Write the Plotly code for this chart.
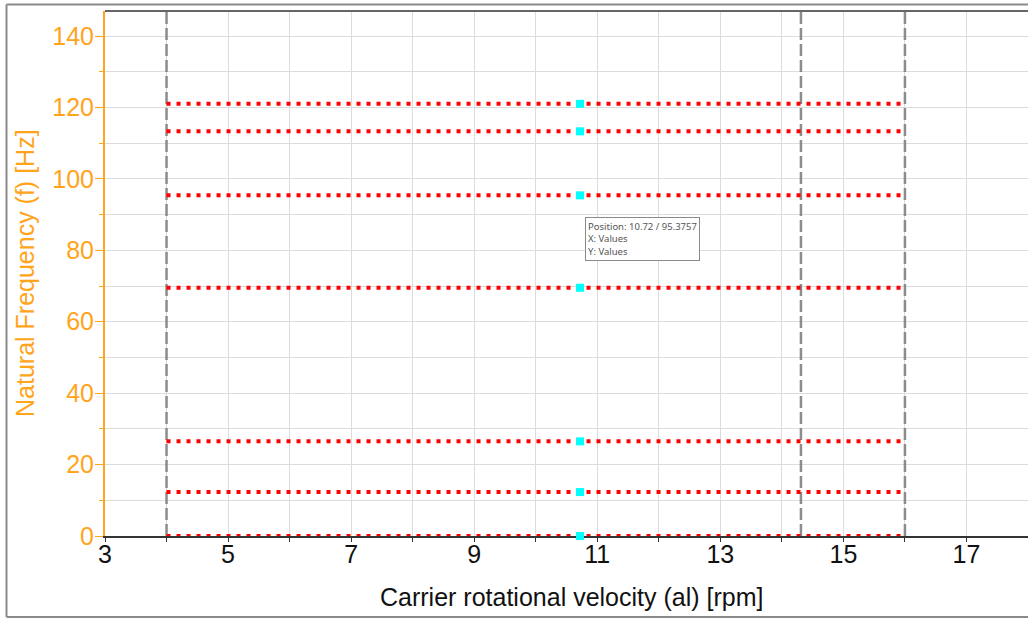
import plotly.graph_objects as go

# ---- data ----
freq_values = [0.0, 12.3, 26.5, 69.5, 95.3757, 113.3, 121.0]   # Hz, natural frequencies
x_start = 4.0      # rpm, start of red lines
x_end = 16.0       # rpm, end of red lines
cursor_x = 10.72   # rpm, cursor position (cyan markers)
vlines_x = [4.0, 14.31, 16.0]   # gray dashed verticals
x_range = [3, 18]
y_range = [0, 147]
x_ticks = [3, 5, 7, 9, 11, 13, 15, 17]
y_ticks = [0, 20, 40, 60, 80, 100, 120, 140]
x_title = "Carrier rotational velocity (al) [rpm]"
y_title = "Natural Frequency (f) [Hz]"

ORANGE = "#FFA41B"
FONT = "Arial"

fig = go.Figure()

for vx in vlines_x:
    fig.add_trace(go.Scatter(
        x=[vx, vx], y=y_range, mode="lines",
        line=dict(color="#8C8C8C", width=2.5, dash="12px,4px"),
        hoverinfo="skip", showlegend=False))

for f in freq_values:
    fig.add_trace(go.Scatter(
        x=[x_start, x_end], y=[f, f], mode="lines",
        line=dict(color="#FF0000", width=4, dash="4px,6px"),
        cliponaxis=False, hoverinfo="skip", showlegend=False))

fig.add_trace(go.Scatter(
    x=[cursor_x] * len(freq_values), y=freq_values, mode="markers",
    marker=dict(symbol="square", size=8, color="#00FFFF", line=dict(width=0)),
    cliponaxis=False, showlegend=False))

# plot area top border
fig.add_shape(type="line", xref="paper", yref="paper", x0=0, x1=1, y0=1, y1=1,
              line=dict(color="#333333", width=1.5))
# outer frame (gray)
PW, PH, L, T = 923.0, 525.0, 105.0, 11.0
def px(xp): return (xp - L) / PW
def py(yp): return (T + PH - yp) / PH
fig.add_shape(type="line", xref="paper", yref="paper", x0=px(6.5), x1=px(1030), y0=py(4.5), y1=py(4.5),
              line=dict(color="#8A8A8A", width=2))
fig.add_shape(type="line", xref="paper", yref="paper", x0=px(6.5), x1=px(6.5), y0=py(4.5), y1=py(617),
              line=dict(color="#8A8A8A", width=2))
fig.add_shape(type="line", xref="paper", yref="paper", x0=px(6.5), x1=px(1030), y0=py(617), y1=py(617),
              line=dict(color="#8A8A8A", width=2))

# tooltip box
fig.add_annotation(
    xref="paper", yref="paper", x=px(585), y=py(217), xanchor="left", yanchor="top",
    text="Position: %.2f / %.4f<br>X: Values<br>Y: Values" % (cursor_x, freq_values[4]),
    showarrow=False, align="left", bgcolor="white", bordercolor="#8A8A8A", borderwidth=1,
    borderpad=2, font=dict(family="Noto Sans, DejaVu Sans, sans-serif", size=9.5, color="#555555"))

# axis titles
fig.add_annotation(xref="paper", yref="paper", x=px(571.5), y=py(597), xanchor="center", yanchor="middle",
                   text=x_title, showarrow=False, font=dict(family=FONT, size=25, color="#111111"))
fig.add_annotation(xref="paper", yref="paper", x=px(25), y=py(273), xanchor="center", yanchor="middle",
                   text=y_title, textangle=-90, showarrow=False, font=dict(family=FONT, size=25, color=ORANGE))

fig.update_layout(
    width=1028, height=619,
    margin=dict(l=105, r=0, t=11, b=83),
    paper_bgcolor="white", plot_bgcolor="white",
    font=dict(family=FONT),
    xaxis=dict(
        range=x_range, tickvals=x_ticks, ticktext=[str(v) for v in x_ticks],
        showgrid=True, gridcolor="#DCDCDC", gridwidth=1,
        minor=dict(dtick=1, tick0=3, showgrid=True, gridcolor="#DCDCDC", ticks="outside",
                   ticklen=4, tickcolor="#333333"),
        ticks="outside", ticklen=4, tickcolor="#333333",
        showline=True, linecolor="#333333", linewidth=1.5,
        zeroline=False, layer="below traces",
        tickfont=dict(size=25, color="#111111"),
        ticklabelstandoff=-9,
    ),
    yaxis=dict(
        range=y_range, tickvals=y_ticks,
        showgrid=True, gridcolor="#DCDCDC", gridwidth=1,
        minor=dict(dtick=10, tick0=0, showgrid=True, gridcolor="#DCDCDC", ticks="outside",
                   ticklen=4, tickcolor=ORANGE),
        ticks="outside", ticklen=8, tickcolor=ORANGE,
        showline=True, linecolor=ORANGE, linewidth=2,
        zeroline=False, layer="below traces",
        tickfont=dict(size=25, color=ORANGE),
        ticklabelstandoff=-4,
    ),
)

fig.write_html("out.html")
